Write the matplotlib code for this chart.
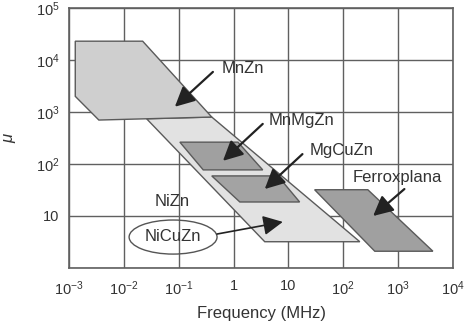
import matplotlib
matplotlib.use('Agg')
import matplotlib.pyplot as plt
from matplotlib.patches import Polygon, Ellipse

plt.rcParams['font.family'] = ['Liberation Sans', 'DejaVu Sans']
plt.rcParams['mathtext.default'] = 'regular'

# Region outlines: (frequency in MHz, permeability)
mnzn_freq = [1.3e-3, 0.022, 0.4, 3.5e-3, 1.3e-3]
mnzn_mu = [2.3e4, 2.3e4, 800, 700, 2000]

nizn_freq = [0.026, 0.4, 200, 3.7]
nizn_mu = [740, 800, 3.2, 3.2]

mnmgzn_freq = [0.105, 1.2, 3.4, 0.28]
mnmgzn_mu = [263, 263, 77, 77]

mgcuzn_freq = [0.40, 6.4, 16, 1.3]
mgcuzn_mu = [59, 59, 18.6, 18.6]

ferrox_freq = [30, 280, 4300, 375]
ferrox_mu = [32, 32, 2.1, 2.1]

x_ticks = [1e-3, 1e-2, 1e-1, 1, 10, 1e2, 1e3, 1e4]
x_labels = ['$10^{-3}$', '$10^{-2}$', '$10^{-1}$', '1', '10',
            '$10^{2}$', '$10^{3}$', '$10^{4}$']
y_ticks = [1, 10, 1e2, 1e3, 1e4, 1e5]
y_labels = ['', '10', '$10^{2}$', '$10^{3}$', '$10^{4}$', '$10^{5}$']

fig = plt.figure(figsize=(4.74, 3.25), dpi=100)
ax = fig.add_axes([0.1456, 0.1754, 0.8101, 0.80])
ax.set_xscale('log')
ax.set_yscale('log')
ax.set_xlim(1e-3, 1e4)
ax.set_ylim(1, 1e5)

edge = '#5a5a5a'


def region(fx, fy, face, z):
    pts = list(zip(fx, fy))
    ax.add_patch(Polygon(pts, closed=True, facecolor=face, edgecolor=edge,
                         lw=1.0, zorder=z))


region(nizn_freq, nizn_mu, '#e2e2e2', 2)
region(mnzn_freq, mnzn_mu, '#cfcfcf', 3)
region(mnmgzn_freq, mnmgzn_mu, '#a0a0a0', 4)
region(mgcuzn_freq, mgcuzn_mu, '#a3a3a3', 4)
region(ferrox_freq, ferrox_mu, '#a0a0a0', 4)

# Labels with arrows
arrow = dict(arrowstyle='-|>,head_length=0.5,head_width=0.25', color='#222222',
             lw=1.6, mutation_scale=24, shrinkA=0, shrinkB=0)
tsize = 12
tcol = '#333333'
ax.annotate('', xy=(0.085, 1260), xytext=(0.42, 5900), arrowprops=arrow, zorder=6)
ax.text(0.61, 6800, 'MnZn', fontsize=tsize, va='center', color=tcol, zorder=6)

ax.annotate('', xy=(0.64, 115), xytext=(3.4, 590), arrowprops=arrow, zorder=6)
ax.text(4.4, 675, 'MnMgZn', fontsize=tsize, va='center', color=tcol, zorder=6)

ax.annotate('', xy=(3.7, 33), xytext=(18, 155), arrowprops=arrow, zorder=6)
ax.text(24.6, 178, 'MgCuZn', fontsize=tsize, va='center', color=tcol, zorder=6)

ax.annotate('', xy=(350, 10), xytext=(1300, 33), arrowprops=arrow, zorder=6)
ax.text(148, 56, 'Ferroxplana', fontsize=tsize, va='center', color=tcol, zorder=6)

ax.text(0.076, 18.6, 'NiZn', fontsize=tsize, ha='center', va='center',
        color=tcol, zorder=6)
ax.text(0.078, 4.1, 'NiCuZn', fontsize=tsize, ha='center', va='center',
        color=tcol, zorder=6)
ax.add_patch(Ellipse((0.271, 0.119), 0.229, 0.131, transform=ax.transAxes,
                     fill=False, edgecolor='#555555', lw=1.0, zorder=6))
thin = dict(arrow, lw=1.2)
ax.annotate('', xy=(7.9, 7.7), xytext=(0.50, 4.5), arrowprops=thin, zorder=6)

ax.set_xticks(x_ticks)
ax.set_xticklabels(x_labels)
ax.set_yticks(y_ticks)
ax.set_yticklabels(y_labels)
ax.minorticks_off()
ax.tick_params(length=0, labelsize=10.5, colors='#333333')
ax.tick_params(axis='x', pad=8)
ax.tick_params(axis='y', pad=7)
ax.grid(True, color='#606060', lw=1.0, zorder=1)
ax.set_axisbelow(True)
for s in ax.spines.values():
    s.set_color('#606060')
    s.set_linewidth(1.2)

ax.set_xlabel('Frequency (MHz)', fontsize=12, color=tcol, labelpad=6)
ax.set_ylabel('μ', fontsize=12, style='italic', color=tcol, labelpad=14)

fig.savefig('out.png', dpi=100)
